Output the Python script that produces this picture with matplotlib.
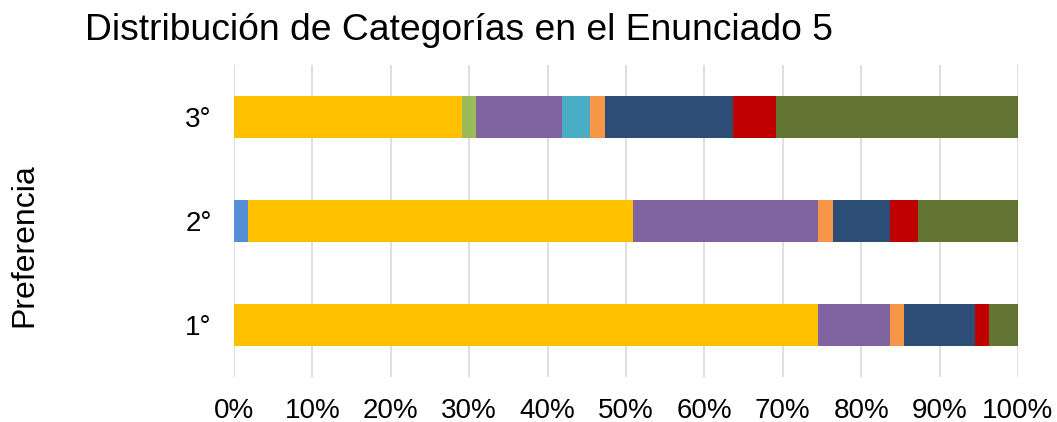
import matplotlib.pyplot as plt
import numpy as np

plt.rcParams['font.family'] = ['Liberation Sans', 'DejaVu Sans']

# Respuestas por categoría (N = 55 por preferencia)
preferencias = ['1°', '2°', '3°']
categorias = ['Cat. 1', 'Cat. 2', 'Cat. 3', 'Cat. 4', 'Cat. 5',
              'Cat. 6', 'Cat. 7', 'Cat. 8', 'Cat. 9']
conteos = {
    'Cat. 1': [0, 1, 0],
    'Cat. 2': [41, 27, 16],
    'Cat. 3': [0, 0, 1],
    'Cat. 4': [5, 13, 6],
    'Cat. 5': [0, 0, 2],
    'Cat. 6': [1, 1, 1],
    'Cat. 7': [5, 4, 9],
    'Cat. 8': [1, 2, 3],
    'Cat. 9': [2, 7, 17],
}
colores = ['#558ED5', '#FFC000', '#9BBB59', '#8064A2', '#4BACC6',
           '#F79646', '#2C4D75', '#C00000', '#617431']

totales = np.sum([conteos[c] for c in categorias], axis=0)

fig = plt.figure(figsize=(10.57, 4.22), dpi=100)
ax = fig.add_axes([0.2214, 0.1066, 0.7417, 0.7394])

y = np.arange(len(preferencias))
izq = np.zeros(len(preferencias))
for cat, col in zip(categorias, colores):
    pct = np.array(conteos[cat]) / totales * 100
    ax.barh(y, pct, left=izq, height=0.4, color=col, zorder=3, label=cat)
    izq += pct

ax.set_xlim(0, 100)
ax.set_ylim(-0.5, 2.5)
ax.set_xticks(np.arange(0, 101, 10))
ax.set_xticklabels([f'{v}%' for v in range(0, 101, 10)])
ax.set_yticks(y)
ax.set_yticklabels(preferencias)
ax.tick_params(axis='both', length=0, labelsize=20, colors='#000000')
ax.tick_params(axis='x', pad=15)
ax.tick_params(axis='y', pad=16)
ax.xaxis.grid(True, color='#D9D9D9', linewidth=1.2, zorder=0)
for s in ax.spines.values():
    s.set_visible(False)

ax.set_ylabel('Preferencia', fontsize=23)
ax.yaxis.set_label_coords(-0.248, 0.423)
fig.text(0.08, 0.905, 'Distribución de Categorías en el Enunciado 5',
         fontsize=26.8, ha='left', va='baseline')

fig.savefig('out.png', dpi=100)
